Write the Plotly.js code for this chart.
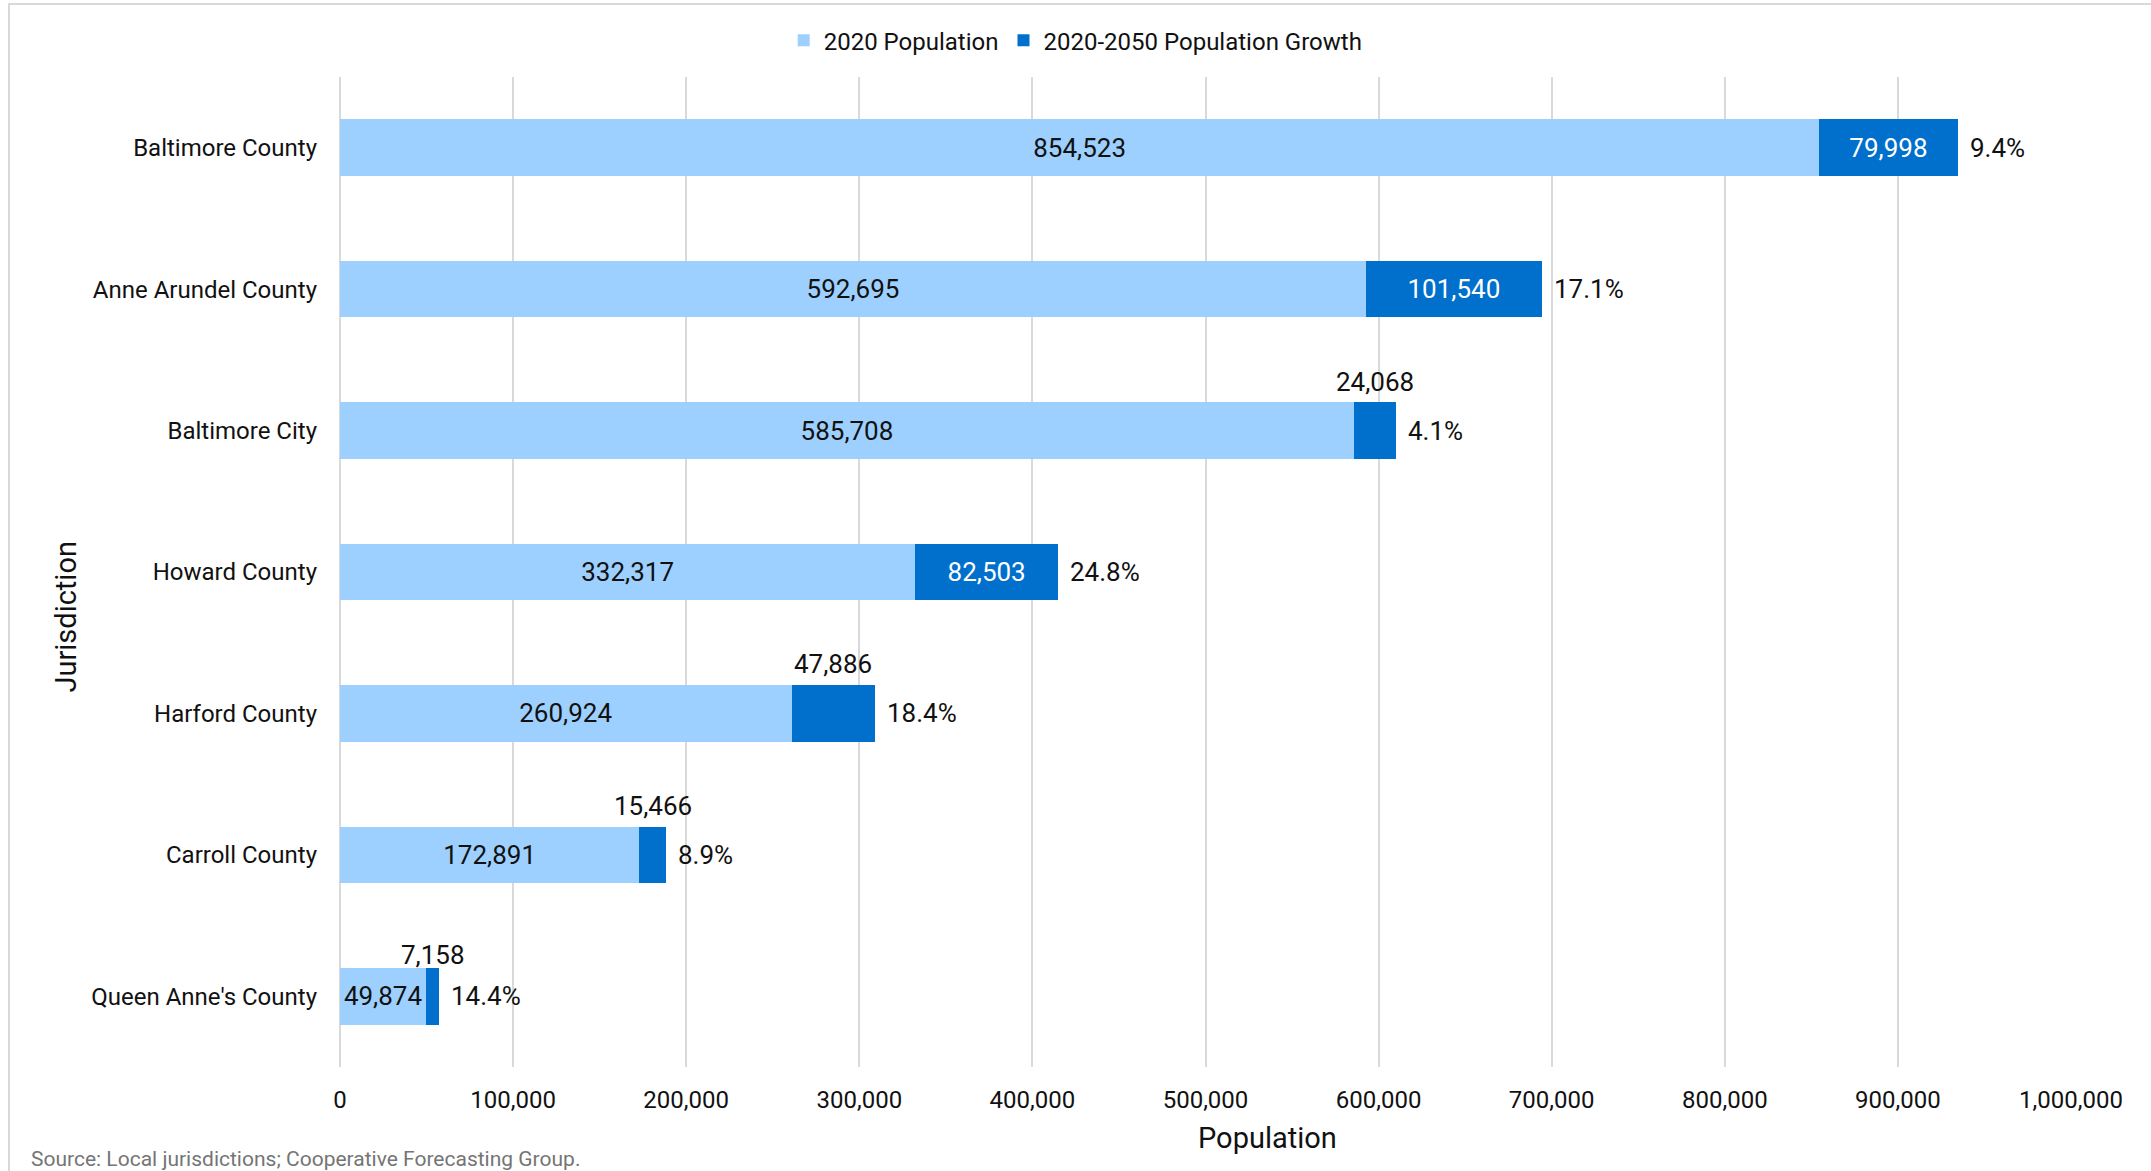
<!DOCTYPE html>
<html>
<head>
<meta charset="utf-8">
<script src="https://cdn.plot.ly/plotly-3.0.1.min.js"></script>
<style>
  html, body { margin: 0; padding: 0; background: #ffffff; }
  #wrap { position: relative; width: 2151px; height: 1171px; overflow: hidden; }
  #chart { position: absolute; left: 0; top: 0; width: 2151px; height: 1171px; }
  #frame { position: absolute; left: 8px; top: 3px; width: 2160px; height: 1200px;
           border: 2px solid #d9d9d9; box-sizing: border-box; pointer-events: none; }
</style>
</head>
<body>
<div id="wrap">
  <div id="chart"></div>
  <div id="frame"></div>
</div>
<script>
// ---- data ----
const jurisdictions = ["Baltimore County", "Anne Arundel County", "Baltimore City",
  "Howard County", "Harford County", "Carroll County", "Queen Anne's County"];
const population2020 = [854523, 592695, 585708, 332317, 260924, 172891, 49874];
const growth2020_2050 = [79998, 101540, 24068, 82503, 47886, 15466, 7158];
const growthPercentLabels = ["9.4%", "17.1%", "4.1%", "24.8%", "18.4%", "8.9%", "14.4%"];
const xTickValues = [0, 100000, 200000, 300000, 400000, 500000, 600000, 700000, 800000, 900000, 1000000];

const fmt = v => v.toLocaleString("en-US");
const FONT = "Roboto, 'Noto Sans', sans-serif";

// growth labels: inside (white) when the bar is wide enough, otherwise above the bar
const insideThreshold = 60000;
const growthInsideText = growth2020_2050.map(v => v >= insideThreshold ? fmt(v) : "");
// vertical offset (px) of the above-bar labels; the last row sits a little lower
const aboveShift = { default: 49, "Queen Anne's County": 41 };

const traces = [
  {
    type: "bar", orientation: "h", name: "2020 Population",
    y: jurisdictions, x: population2020,
    marker: { color: "#9dd0ff" },
    text: population2020.map(fmt), textposition: "inside", insidetextanchor: "middle",
    textfont: { family: FONT, size: 26, color: "#111111" },
    constraintext: "none", cliponaxis: false, hoverinfo: "x+y"
  },
  {
    type: "bar", orientation: "h", name: "2020-2050 Population Growth",
    y: jurisdictions, x: growth2020_2050,
    marker: { color: "#0070cc" },
    text: growthInsideText, textposition: "inside", insidetextanchor: "middle",
    textfont: { family: FONT, size: 26, color: "#ffffff" },
    constraintext: "none", cliponaxis: false, hoverinfo: "x+y"
  }
];

const annotations = [];
jurisdictions.forEach((j, i) => {
  const total = population2020[i] + growth2020_2050[i];
  annotations.push({
    x: total, y: j, xref: "x", yref: "y", text: growthPercentLabels[i],
    showarrow: false, xanchor: "left", yanchor: "middle", xshift: 10,
    font: { family: FONT, size: 26, color: "#111111" }
  });
  if (growth2020_2050[i] < insideThreshold) {
    annotations.push({
      x: population2020[i] + growth2020_2050[i] / 2, y: j, xref: "x", yref: "y",
      text: fmt(growth2020_2050[i]), showarrow: false,
      xanchor: "center", yanchor: "middle",
      yshift: (j in aboveShift) ? aboveShift[j] : aboveShift.default,
      font: { family: FONT, size: 26, color: "#111111" }
    });
  }
});

annotations.push({
  xref: "paper", yref: "paper", x: 0.536, y: -0.072, text: "Population",
  showarrow: false, xanchor: "center", yanchor: "middle",
  font: { family: FONT, size: 29, color: "#111111" }
});
annotations.push({
  xref: "paper", yref: "paper", x: -0.158, y: 0.4545, text: "Jurisdiction",
  showarrow: false, xanchor: "center", yanchor: "middle", textangle: -90,
  font: { family: FONT, size: 29, color: "#111111" }
});
annotations.push({
  xref: "paper", yref: "paper", x: -0.1797, y: -0.0925, text: "Source: Local jurisdictions; Cooperative Forecasting Group.",
  showarrow: false, xanchor: "left", yanchor: "middle",
  font: { family: FONT, size: 21, color: "#757575" }
});

const layout = {
  width: 2151, height: 1171,
  margin: { l: 340, r: 80, t: 77.3, b: 104.3, pad: 0 },
  paper_bgcolor: "#ffffff", plot_bgcolor: "#ffffff",
  barmode: "stack", bargap: 0.6,
  font: { family: FONT, size: 24, color: "#111111" },
  showlegend: true,
  legend: {
    orientation: "h", x: 0.425, xanchor: "center", y: 1.0367, yanchor: "middle",
    font: { family: FONT, size: 24, color: "#111111" },
    itemwidth: 30, traceorder: "normal", tracegroupgap: 0
  },
  xaxis: {
    range: [0, 1000000], tickvals: xTickValues, ticktext: xTickValues.map(fmt),
    showgrid: true, gridcolor: "#d9d9d9", gridwidth: 2,
    zeroline: true, zerolinecolor: "#d9d9d9", zerolinewidth: 2,
    showline: false, ticks: "", ticklabelstandoff: 16,
    tickfont: { family: FONT, size: 24, color: "#111111" },
    fixedrange: true
  },
  yaxis: {
    type: "category", categoryorder: "array", categoryarray: jurisdictions,
    autorange: "reversed",
    showgrid: false, zeroline: false, showline: false, ticks: "",
    ticklabelstandoff: 22,
    tickfont: { family: FONT, size: 24, color: "#111111" },
    fixedrange: true
  },
  annotations: annotations
};

Plotly.newPlot("chart", traces, layout, { displayModeBar: false, staticPlot: true });
</script>
</body>
</html>
